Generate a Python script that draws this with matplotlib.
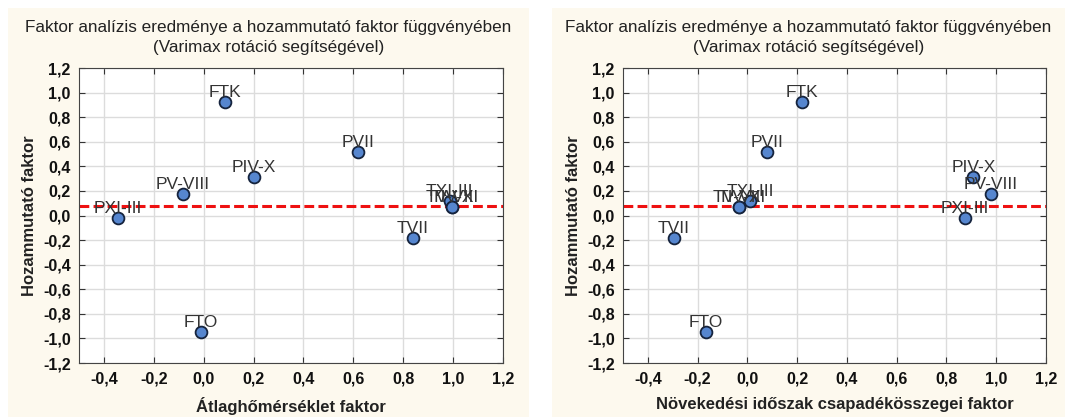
import numpy as np
import matplotlib.pyplot as plt
from matplotlib.patches import Rectangle
from matplotlib.ticker import FuncFormatter

plt.rcParams['font.family'] = ['Liberation Sans', 'DejaVu Sans']

# adatok: pontok neve es koordinatai a ket abran
labels = ['FTK', 'PVII', 'PIV-X', 'PV-VIII', 'PXI-III',
          'TXI-III', 'TIV-X', 'TV-VIII', 'TVII', 'FTO']
hozam = [0.923, 0.517, 0.316, 0.175, -0.023,
         0.118, 0.072, 0.072, -0.180, -0.950]
atlag_hom = [0.086, 0.618, 0.200, -0.084, -0.345,
             0.986, 0.997, 0.997, 0.838, -0.010]
csapadek = [0.219, 0.078, 0.908, 0.978, 0.875,
            0.011, -0.033, -0.033, -0.297, -0.167]
ref_y = 0.075

title = 'Faktor analízis eredménye a hozammutató faktor függvényében\n(Varimax rotáció segítségével)'
xlabels = ['Átlaghőmérséklet faktor', 'Növekedési időszak csapadékösszegei faktor']
ylabel = 'Hozammutató faktor'

fig = plt.figure(figsize=(10.65, 4.17), dpi=100)
W, H = 1065, 417

# kremszinu hatter a ket panelhez
for x0, x1 in [(8, 529), (552, 1065)]:
    fig.patches.append(Rectangle((x0 / W, 0), (x1 - x0) / W, (H - 8) / H,
                                 transform=fig.transFigure, facecolor='#fdf9ee',
                                 edgecolor='none', zorder=-5))

comma = FuncFormatter(lambda v, p: ('%.1f' % v).replace('.', ',').replace('-0,0', '0,0'))

axes_pos = [(79, 503), (623, 1046)]
xdata = [atlag_hom, csapadek]
panel_center = [(8 + 529) / 2, (552 + 1065) / 2]

for i in range(2):
    l, r = axes_pos[i]
    ax = fig.add_axes([l / W, 1 - 363 / H, (r - l) / W, (363 - 68) / H])
    ax.set_facecolor('white')
    ax.set_xlim(-0.5, 1.2)
    ax.set_ylim(-1.2, 1.2)
    ax.set_xticks(np.arange(-0.4, 1.21, 0.2))
    ax.set_yticks(np.arange(-1.2, 1.21, 0.2))
    ax.xaxis.set_major_formatter(comma)
    ax.yaxis.set_major_formatter(comma)
    ax.grid(True, color='#dcdcdc', linewidth=1.0)
    ax.set_axisbelow(True)
    ax.tick_params(direction='in', length=4, top=True, right=True,
                   labelsize=11.5, colors='#333333', labelcolor='#111111', pad=6)
    for t in ax.get_xticklabels() + ax.get_yticklabels():
        t.set_fontweight('bold')
    for s in ax.spines.values():
        s.set_color('#444444')

    ax.axhline(ref_y, color='#ee1111', linewidth=2.2, dashes=(3.2, 1.4), zorder=2)
    ax.plot(xdata[i], hozam, 'o', markersize=8.5, markerfacecolor='#5686cf',
            markeredgecolor='#15233d', markeredgewidth=1.3, zorder=3)
    for name, xv, yv in zip(labels, xdata[i], hozam):
        ax.annotate(name, (xv, yv), xytext=(0, 3.6), textcoords='offset points',
                    ha='center', va='baseline', fontsize=12.5, color='#333333', zorder=4)

    ax.set_xlabel(xlabels[i], fontsize=12, fontweight='bold', color='#222222', labelpad=8)
    ax.set_ylabel(ylabel, fontsize=12, fontweight='bold', color='#222222', labelpad=4)
    fig.text(panel_center[i] / W, 1 - 20 / H, title, ha='center', va='top',
             fontsize=12.3, color='#222222', linespacing=1.45)

fig.savefig('out.png', dpi=100)
